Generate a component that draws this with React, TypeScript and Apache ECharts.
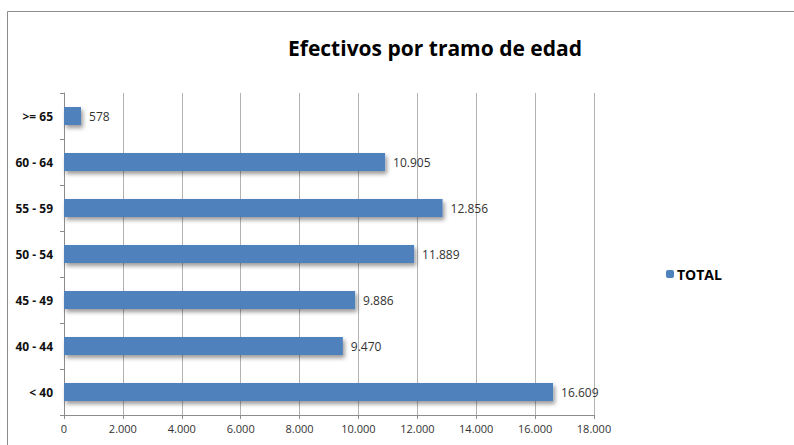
import React, { useEffect, useRef } from "react";
import * as echarts from "echarts";

const categories = ["< 40", "40 - 44", "45 - 49", "50 - 54", "55 - 59", "60 - 64", ">= 65"];
const totals = [16609, 9470, 9886, 11889, 12856, 10905, 578];
const xTicks = [0, 2000, 4000, 6000, 8000, 10000, 12000, 14000, 16000, 18000];

const fmt = (v: number) => String(v).replace(/\B(?=(\d{3})+(?!\d))/g, ".");
const NARROW = "'Liberation Sans Narrow', 'Open Sans', sans-serif";

export default function App() {
  const ref = useRef<HTMLDivElement>(null);
  useEffect(() => {
    if (!ref.current) return;
    const chart = echarts.init(ref.current, undefined, { renderer: "svg" });
    chart.setOption({
      animation: false,
      backgroundColor: "#ffffff",
      title: {
        text: "Efectivos por tramo de edad",
        left: 430,
        textAlign: "center",
        top: 32,
        textStyle: { fontFamily: "'Open Sans', sans-serif", fontWeight: "bold", fontSize: 21, color: "#000" },
      },
      graphic: [
        {
          type: "rect",
          shape: { x: 7.5, y: 11.5, width: 820, height: 460 },
          style: { fill: "none", stroke: "#8c8c8c", lineWidth: 1 },
          silent: true,
        },
      ],
      legend: {
        left: 661,
        top: 262,
        itemWidth: 8,
        itemHeight: 8,
        itemGap: 4,
        data: ["TOTAL"],
        textStyle: { fontFamily: "'Open Sans', sans-serif", fontWeight: "bold", fontSize: 14, color: "#000", padding: [0, 0, 0, -2] },
      },
      grid: { left: 64, right: 200, top: 93, bottom: 30, containLabel: false },
      xAxis: {
        type: "value",
        min: xTicks[0],
        max: xTicks[xTicks.length - 1],
        interval: 2000,
        axisLine: { show: true, lineStyle: { color: "#8c8c8c" } },
        axisTick: { show: true, length: 4, lineStyle: { color: "#8c8c8c" } },
        splitLine: { show: true, lineStyle: { color: "#b3b3b3" } },
        axisLabel: {
          fontFamily: NARROW,
          fontSize: 11,
          color: "#333",
          margin: 8,
          formatter: (v: number) => fmt(v),
        },
      },
      yAxis: {
        type: "category",
        data: categories,
        axisLine: { show: true, lineStyle: { color: "#8c8c8c" } },
        axisTick: { show: true, length: 4, lineStyle: { color: "#8c8c8c" } },
        splitLine: { show: false },
        axisLabel: {
          fontFamily: NARROW,
          fontWeight: "bold",
          fontSize: 12,
          color: "#111",
          margin: 11,
        },
      },
      series: [
        {
          name: "TOTAL",
          type: "bar",
          data: totals,
          barWidth: 18,
          itemStyle: {
            color: "#4f81bd",
            shadowColor: "rgba(0,0,0,0.4)",
            shadowBlur: 4,
            shadowOffsetX: 2,
            shadowOffsetY: 3,
          },
          label: {
            show: true,
            position: "right",
            distance: 8,
            fontFamily: NARROW,
            fontSize: 12,
            color: "#333",
            formatter: (p: any) => fmt(p.value),
          },
        },
      ],
    });
    return () => chart.dispose();
  }, []);
  return <div ref={ref} style={{ position: "fixed", left: 0, top: 0, width: 794, height: 445 }} />;
}
